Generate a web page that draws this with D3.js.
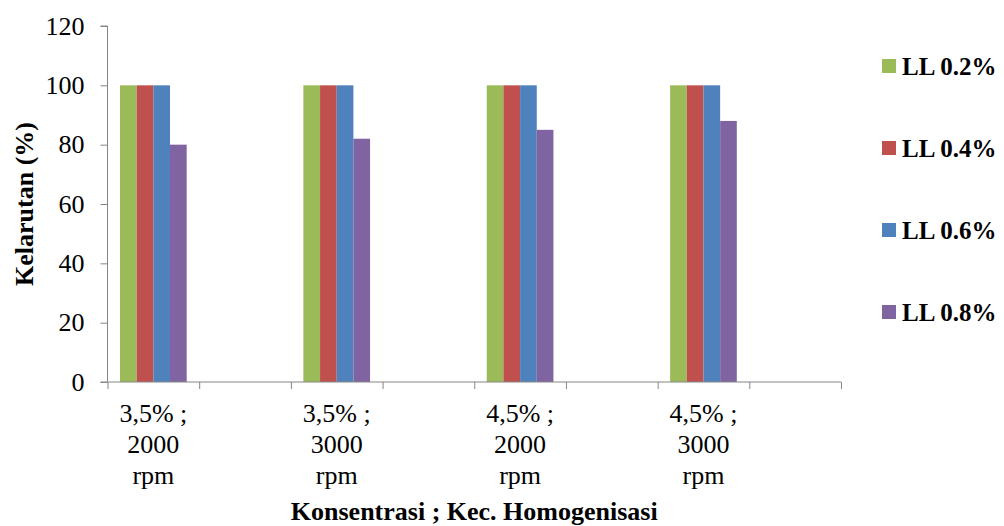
<!DOCTYPE html>
<html>
<head>
<meta charset="utf-8">
<script src="https://cdn.jsdelivr.net/npm/d3@7"></script>
<style>
  html, body { margin: 0; padding: 0; background: #fff; }
  svg { display: block; font-family: "Liberation Serif", "Times New Roman", serif; }
</style>
</head>
<body>
<svg id="chart" width="1004" height="526"></svg>
<script>
// Categories (blank slots keep the spacing between groups)
const categories = ["3,5% ;|2000|rpm", "", "3,5% ;|3000|rpm", "", "4,5% ;|2000|rpm", "", "4,5% ;|3000|rpm", ""];
const seriesNames = ["LL 0.2%", "LL 0.4%", "LL 0.6%", "LL 0.8%"];
const seriesColors = ["#9BBB59", "#C0504D", "#4F81BD", "#8064A2"];
const ll02 = [100, null, 100, null, 100, null, 100, null];
const ll04 = [100, null, 100, null, 100, null, 100, null];
const ll06 = [100, null, 100, null, 100, null, 100, null];
const ll08 = [80, null, 82, null, 85, null, 88, null];
const yTicks = [0, 20, 40, 60, 80, 100, 120];
const xTitle = "Konsentrasi ; Kec. Homogenisasi";
const yTitle = "Kelarutan (%)";

const seriesValues = [ll02, ll04, ll06, ll08];

const svg = d3.select("#chart");
const plotLeft = 107.5, plotRight = 841, plotTop = 26, plotBottom = 382;
const axisColor = "#868686";

const x = d3.scaleBand().domain(d3.range(categories.length)).range([plotLeft, plotRight]).padding(0);
const xEdges = d3.scaleLinear().domain([0, categories.length]).range([plotLeft, plotRight]);
const xInner = d3.scaleBand().domain(d3.range(seriesNames.length))
  .range([0, x.bandwidth()]).paddingInner(0).paddingOuter(0.75);
const y = d3.scaleLinear().domain([0, 120]).range([plotBottom, plotTop]);

// Bars
seriesValues.forEach((vals, si) => {
  svg.append("g").selectAll("rect")
    .data(vals.map((v, i) => ({ v, i })).filter(d => d.v != null))
    .join("rect")
    .attr("x", d => x(d.i) + xInner(si))
    .attr("y", d => y(d.v))
    .attr("width", xInner.bandwidth())
    .attr("height", d => y(0) - y(d.v))
    .attr("fill", seriesColors[si]);
});

// Y axis
const yAxis = svg.append("g")
  .attr("transform", `translate(${plotLeft},0)`)
  .call(d3.axisLeft(y).tickValues(yTicks).tickSize(7).tickPadding(16));
yAxis.select(".domain").attr("stroke", axisColor).attr("d", `M-7,${plotTop}H0V${plotBottom}H-7`);
yAxis.selectAll(".tick line").attr("stroke", axisColor);
yAxis.selectAll(".tick text")
  .attr("fill", "#000").style("font-size", "26px")
  .style("font-family", "'Liberation Serif', 'Times New Roman', serif");

// X axis with ticks on category boundaries
const xAxis = svg.append("g")
  .attr("transform", `translate(0,${plotBottom})`)
  .call(d3.axisBottom(xEdges).tickValues(d3.range(categories.length + 1)).tickSize(7).tickFormat(""));
xAxis.select(".domain").attr("stroke", axisColor).attr("d", `M${plotLeft},0H${plotRight}`);
xAxis.selectAll(".tick line").attr("stroke", axisColor);

// Category labels
const lbl = svg.append("g").selectAll("text")
  .data(categories.map((c, i) => ({ c, i })).filter(d => d.c !== ""))
  .join("text")
  .attr("text-anchor", "middle")
  .style("font-size", "26px")
  .attr("fill", "#000");
lbl.each(function (d) {
  const t = d3.select(this);
  d.c.split("|").forEach((line, k) => {
    t.append("tspan")
      .attr("x", x(d.i) + x.bandwidth() / 2)
      .attr("y", 422 + k * 31)
      .text(line);
  });
});

// Axis titles
svg.append("text")
  .attr("x", (plotLeft + plotRight) / 2).attr("y", 520)
  .attr("text-anchor", "middle")
  .style("font-size", "26px").style("font-weight", "bold")
  .text(xTitle);

svg.append("text")
  .attr("transform", `translate(33,${(plotTop + plotBottom) / 2}) rotate(-90)`)
  .attr("text-anchor", "middle")
  .style("font-size", "26px").style("font-weight", "bold")
  .text(yTitle);

// Legend
const legend = svg.append("g").selectAll("g")
  .data(seriesNames)
  .join("g")
  .attr("transform", (d, i) => `translate(882,${66 + i * 82})`);
legend.append("rect")
  .attr("x", 0).attr("y", -7).attr("width", 14).attr("height", 14)
  .attr("fill", (d, i) => seriesColors[i]);
legend.append("text")
  .attr("x", 20).attr("y", 0).attr("dy", "0.34em")
  .style("font-size", "25px").style("font-weight", "bold")
  .text(d => d);
</script>
</body>
</html>
